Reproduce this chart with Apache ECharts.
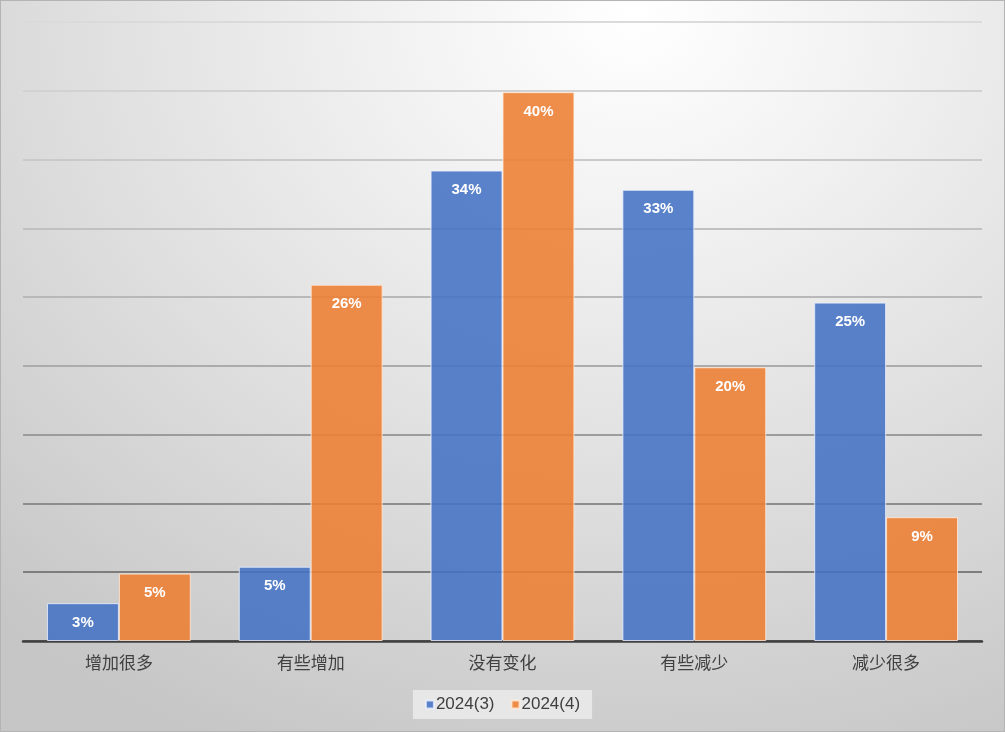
<!DOCTYPE html>
<html>
<head>
<meta charset="utf-8">
<script src="https://cdn.jsdelivr.net/npm/echarts@6/dist/echarts.min.js"></script>
<style>
html,body{margin:0;padding:0;}
#chart{width:1005px;height:732px;box-sizing:border-box;border:1px solid #b4b4b4;
background:radial-gradient(ellipse 95% 110% at 63% 2%, #ffffff 0%, #f2f2f2 25%, #dedede 60%, #c6c6c6 100%);}
</style>
</head>
<body>
<div id="chart"></div>
<script>
const categories = ['增加很多', '有些增加', '没有变化', '有些减少', '减少很多'];
const seriesNames = ['2024(3)', '2024(4)'];
const values2024_3 = [2.75, 5.4, 34.2, 32.8, 24.6];
const values2024_4 = [4.9, 25.9, 39.9, 19.9, 9.0];
const yTicks = [0, 5, 10, 15, 20, 25, 30, 35, 40, 45];

const chart = echarts.init(document.getElementById('chart'), null, {renderer: 'canvas'});
const labelCfg = {
  show: true,
  position: 'insideTop',
  distance: 12,
  color: '#ffffff',
  fontWeight: 'bold',
  fontSize: 15,
  fontFamily: 'Liberation Sans Narrow, Liberation Sans, Arial',
  formatter: p => Math.round(p.value) + '%'
};
chart.setOption({
  backgroundColor: 'transparent',
  animation: false,
  grid: {left: 22, right: 22, top: 21, bottom: 90, containLabel: false},
  legend: {
    data: seriesNames,
    bottom: 12,
    left: 'center',
    icon: 'rect',
    itemWidth: 8,
    itemHeight: 8,
    itemGap: 16,
    backgroundColor: 'rgba(235,235,235,0.85)',
    padding: [6, 12, 6, 12],
    textStyle: {fontSize: 17, color: '#404040', fontFamily: 'Liberation Sans Narrow, Liberation Sans, Arial', padding: [0, 0, 0, -3]}
  },
  xAxis: {
    type: 'category',
    data: categories,
    axisTick: {show: false},
    axisLine: {show: true, lineStyle: {color: '#404040', width: 2.5}},
    axisLabel: {fontSize: 17, color: '#404040', margin: 13, fontFamily: 'Noto Sans CJK SC'}
  },
  yAxis: {
    type: 'value',
    min: yTicks[0],
    max: yTicks[yTicks.length - 1],
    interval: yTicks[1] - yTicks[0],
    axisLabel: {show: false},
    axisLine: {show: false},
    axisTick: {show: false},
    splitLine: {
      show: true,
      lineStyle: {
        width: 2,
        color: new echarts.graphic.LinearGradient(0, 0, 0, 641, [
          {offset: 0, color: '#dddddd'},
          {offset: 0.5, color: '#b5b5b5'},
          {offset: 1, color: '#6e6e6e'}
        ], true)
      }
    }
  },
  series: [
    {
      name: seriesNames[0],
      type: 'bar',
      data: values2024_3,
      barGap: '0%',
      barCategoryGap: '25%',
      itemStyle: {color: 'rgba(68,114,196,0.88)', borderColor: 'rgba(235,240,255,0.8)', borderWidth: 1},
      label: labelCfg
    },
    {
      name: seriesNames[1],
      type: 'bar',
      data: values2024_4,
      barGap: '0%',
      barCategoryGap: '25%',
      itemStyle: {color: 'rgba(237,125,49,0.88)', borderColor: 'rgba(255,235,220,0.8)', borderWidth: 1},
      label: labelCfg
    }
  ]
});
</script>
</body>
</html>
